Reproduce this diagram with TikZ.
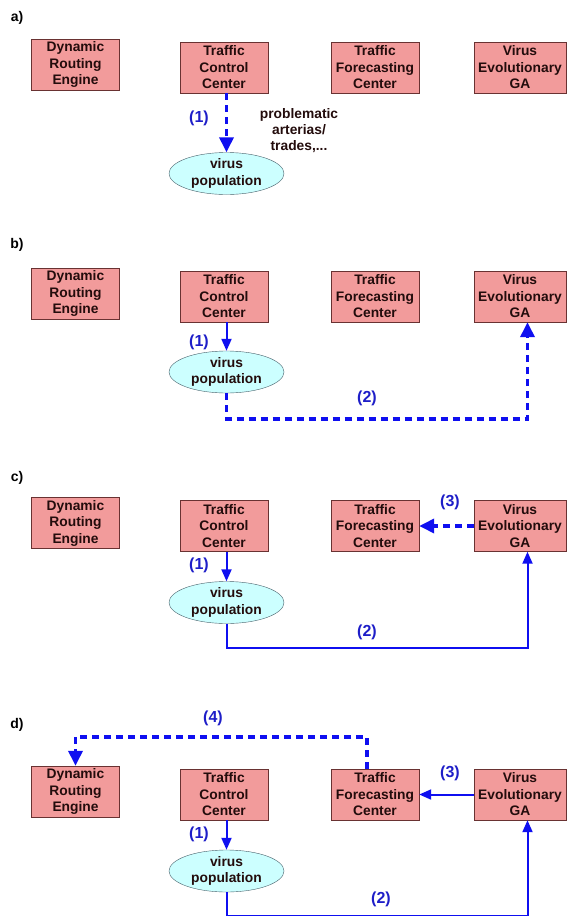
\documentclass[tikz,border=0pt]{standalone}
\usepackage{fontspec}
\setmainfont{Liberation Sans}
\usetikzlibrary{arrows.meta,shapes.geometric}

\definecolor{boxred}{RGB}{242,155,155}
\definecolor{boxline}{RGB}{105,50,50}
\definecolor{popfill}{RGB}{204,255,255}
\definecolor{popline}{RGB}{70,95,105}
\definecolor{flow}{RGB}{15,15,240}
\definecolor{flowtxt}{RGB}{30,30,200}
\definecolor{ink}{RGB}{35,12,12}

\begin{document}
\begin{tikzpicture}[x=1pt,y=-1pt,
  box/.style={draw=boxline,fill=boxred,minimum width=88pt,minimum height=51pt,
    inner sep=0pt,align=center,text=ink,font=\bfseries\fontsize{13.8}{16.5}\selectfont},
  pop/.style={ellipse,draw=popline,fill=popfill,minimum width=115pt,minimum height=42pt,
    inner sep=0pt,align=center,text=ink,font=\bfseries\fontsize{13.8}{16.5}\selectfont},
  tag/.style={font=\bfseries\fontsize{14}{16}\selectfont},
  lbl/.style={text=flowtxt,font=\bfseries\fontsize{16}{18}\selectfont},
  solidflow/.style={draw=flow,line width=2pt,-{Triangle[length=12pt,width=10pt]}},
  dashflow/.style={draw=flow,line width=3.5pt,dash pattern=on 7pt off 5pt,
    -{Triangle[length=15pt,width=14pt]}}]
\useasboundingbox (0,0) rectangle (568,916);

% the four panels
\foreach \p/\y/\e in {a/67.5/106,b/296.5/75.5,c/526/76.5,d/794.5/76.5}{
  \node[box] (dre\p) at (75.5,\y-3) {Dynamic\\Routing\\Engine};
  \node[box] (tcc\p) at (224,\y) {Traffic\\Control\\Center};
  \node[box] (tfc\p) at (375,\y) {Traffic\\Forecasting\\Center};
  \node[box,minimum width=92pt] (vega\p) at (520,\y) {Virus\\Evolutionary\\GA};
  \node[pop] (pop\p) at (226.5,\y+\e) {virus\\population};
}
\foreach \p/\y in {a/18,b/245,c/478,d/725}
  \node[tag] (tag\p) at (17,\y) {\p)};

% a)
\draw[dashflow] (popa.north |- tcca.south) -- (popa.north);
\node[lbl] (onea) at (199,118) {(1)};
\node[align=center,text=ink,font=\bfseries\fontsize{13.8}{16}\selectfont] (note) at (299,131)
  {problematic\\arterias/\\trades,...};

% b)
\draw[solidflow] (popb.north |- tccb.south) -- (popb.north);
\draw[dashflow] (popb.south) -- ++(0,26) -| ([xshift=7.5pt]vegab.south);
\node[lbl] (oneb) at (199,342) {(1)};
\node[lbl] (twob) at (367,398) {(2)};

% c)
\draw[solidflow] (popc.north |- tccc.south) -- (popc.north);
\draw[solidflow] (popc.south) -- ++(0,24) -| ([xshift=7.5pt]vegac.south);
\draw[dashflow] (vegac.west) -- (tfcc.east);
\node[lbl] (onec) at (199,565) {(1)};
\node[lbl] (twoc) at (367,632) {(2)};
\node[lbl] (threec) at (450,502) {(3)};

% d)
\draw[solidflow] (popd.north |- tccd.south) -- (popd.north);
\draw[solidflow] (popd.south) -- ++(0,24) -| ([xshift=7.5pt]vegad.south);
\draw[solidflow] (vegad.west) -- (tfcd.east);
\draw[dashflow] ([xshift=-8pt]tfcd.north) -- ++(0,-32) -| (dred.north);
\node[lbl] (oned) at (199,834) {(1)};
\node[lbl] (twod) at (381,899) {(2)};
\node[lbl] (threed) at (450,773) {(3)};
\node[lbl] (fourd) at (213,718) {(4)};
\end{tikzpicture}
\end{document}
